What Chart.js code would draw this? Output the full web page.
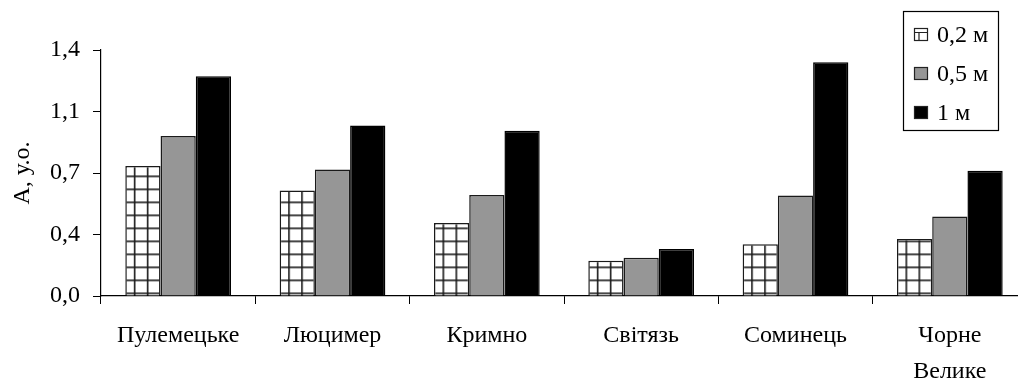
<!DOCTYPE html>
<html>
<head>
<meta charset="utf-8">
<script src="https://cdn.jsdelivr.net/npm/chart.js@4/dist/chart.umd.min.js"></script>
<style>
  html, body { margin: 0; padding: 0; background: #fff; overflow: hidden; }
  #wrap { position: relative; width: 1040px; height: 378px; }
</style>
</head>
<body>
<div id="wrap"><canvas id="c" width="1040" height="378"></canvas></div>
<script>
// Lakes and measured values (А, у.о.) at three depths
const categories = ['Пулемецьке', 'Люцимер', 'Кримно', 'Світязь', 'Соминець', ['Чорне', 'Велике']];
const seriesNames = ['0,2 м', '0,5 м', '1 м'];
const depth02 = [0.74, 0.60, 0.415, 0.20, 0.295, 0.325];
const depth05 = [0.91, 0.72, 0.575, 0.217, 0.572, 0.452];
const depth1  = [1.25, 0.97, 0.94, 0.267, 1.33, 0.713];
const yTickLabels = ['0,0', '0,4', '0,7', '1,1', '1,4'];

const FONT = "'Liberation Serif', 'Times New Roman', serif";
const GRAY = '#969696';
const CAT_PCT = 0.685;

// square grid fill for the shallowest series, phased to each bar
function gridTile() {
  const t = document.createElement('canvas');
  t.width = 13; t.height = 13;
  const g = t.getContext('2d');
  g.fillStyle = '#fff';
  g.fillRect(0, 0, 13, 13);
  g.fillStyle = '#1a1a1a';
  g.fillRect(0, 0, 13, 1.6);
  g.fillRect(0, 0, 1.6, 13);
  return t;
}
const tile = gridTile();

function gridFill(ctx) {
  const chart = ctx.chart;
  if (ctx.type !== 'data' || !chart.scales || !chart.scales.x) return '#fff';
  const xs = chart.scales.x, ys = chart.scales.y;
  const pat = chart.ctx.createPattern(tile, 'repeat');
  const catW = xs.width / categories.length;
  const barW = catW * CAT_PCT / 3;
  const left = xs.getPixelForValue(ctx.dataIndex) - 1.5 * barW;
  const base = ys.getPixelForValue(0);
  if (pat.setTransform) pat.setTransform(new DOMMatrix([1, 0, 0, 1, left - 4.5, base - 3.5]));
  return pat;
}

// boxed legend in the upper-right corner
const boxLegend = {
  id: 'boxLegend',
  afterDraw(chart) {
    const c = chart.ctx;
    c.save();
    c.fillStyle = '#fff';
    c.fillRect(903.5, 11.5, 95, 119);
    c.strokeStyle = '#000';
    c.lineWidth = 1.2;
    c.strokeRect(903.5, 11.5, 95, 119);
    const ys = [35, 74, 113];
    c.font = '24px ' + FONT;
    c.textBaseline = 'middle';
    seriesNames.forEach((name, i) => {
      const x0 = 914, y0 = ys[i] - 7, w = 14, h = 13;
      if (i === 0) {
        c.fillStyle = '#fff';
        c.fillRect(x0, y0, w, h);
        c.strokeStyle = '#222';
        c.lineWidth = 1.2;
        c.beginPath();
        c.moveTo(x0, y0 + 4.5); c.lineTo(x0 + w, y0 + 4.5);
        c.moveTo(x0 + 5, y0 + 4.5); c.lineTo(x0 + 5, y0 + h);
        c.stroke();
      } else {
        c.fillStyle = i === 1 ? GRAY : '#000';
        c.fillRect(x0, y0, w, h);
      }
      c.strokeStyle = '#222';
      c.lineWidth = 1.2;
      c.strokeRect(x0 + 0.5, y0 + 0.5, w - 1, h - 1);
      c.fillStyle = '#000';
      c.fillText(name, 937, ys[i] + 1);
    });
    c.restore();
  }
};

new Chart(document.getElementById('c'), {
  type: 'bar',
  data: {
    labels: categories,
    datasets: [
      { label: seriesNames[0], data: depth02, backgroundColor: gridFill, borderColor: '#1a1a1a', borderWidth: 1.5 },
      { label: seriesNames[1], data: depth05, backgroundColor: GRAY, borderColor: '#1a1a1a', borderWidth: 1.5 },
      { label: seriesNames[2], data: depth1, backgroundColor: '#000', borderColor: '#000', borderWidth: 1.5 }
    ]
  },
  options: {
    responsive: false,
    animation: false,
    devicePixelRatio: 1,
    layout: { padding: { left: 0, right: 13, top: 50, bottom: 0 } },
    datasets: { bar: { categoryPercentage: CAT_PCT, barPercentage: 1 } },
    plugins: { legend: { display: false }, tooltip: { enabled: false } },
    scales: {
      x: {
        offset: true,
        grid: { offset: true, drawOnChartArea: false, drawTicks: true, tickLength: 8, color: '#000', lineWidth: 1 },
        border: { color: '#000', width: 1.2 },
        ticks: { color: '#000', font: { family: FONT, size: 24, lineHeight: 1.5 }, padding: 14, maxRotation: 0, autoSkip: false },
        afterFit(s) { s.height = 82; }
      },
      y: {
        min: 0, max: 1.4,
        afterBuildTicks(s) { s.ticks = yTickLabels.map((_, i) => ({ value: i * 0.35 })); },
        grid: { drawOnChartArea: false, drawTicks: true, tickLength: 8, color: '#000', lineWidth: 1 },
        border: { color: '#000', width: 1.2 },
        ticks: {
          color: '#000', font: { family: FONT, size: 24 }, padding: 13,
          callback: (v, i) => yTickLabels[i]
        },
        title: { display: true, text: 'А, у.о.', color: '#000', font: { family: FONT, size: 24 }, padding: { top: 8, bottom: 0 } },
        afterFit(s) { s.width = 101; }
      }
    }
  },
  plugins: [boxLegend]
});
</script>
</body>
</html>
